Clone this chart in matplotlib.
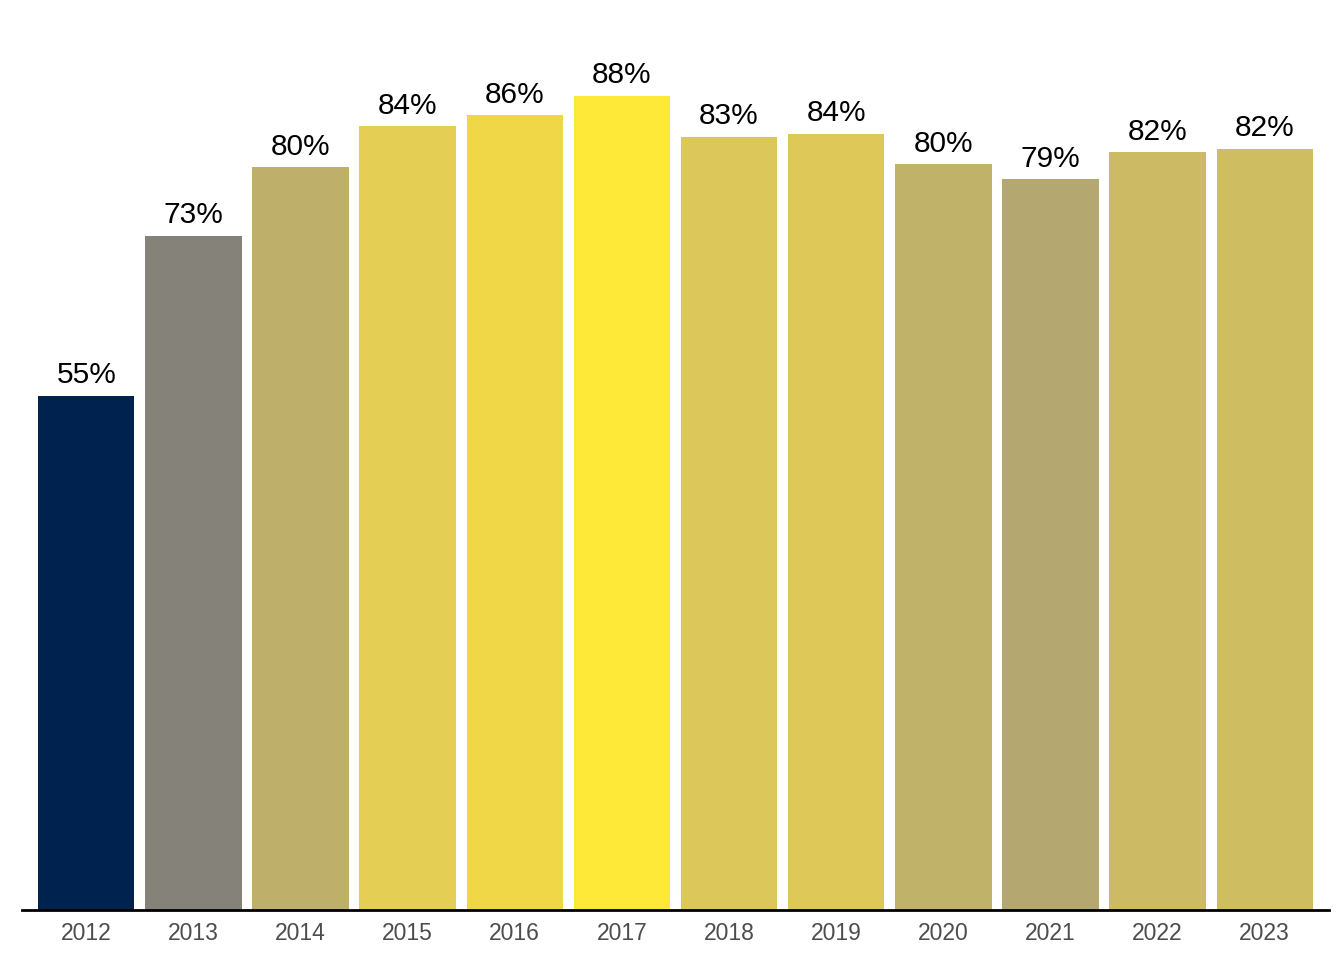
import numpy as np
import matplotlib
matplotlib.use("Agg")
import matplotlib.pyplot as plt
from matplotlib import cm, colors

# Values (percent)
years = ["2012", "2013", "2014", "2015", "2016", "2017",
         "2018", "2019", "2020", "2021", "2022", "2023"]
values = [55.4, 72.6, 80.0, 84.4, 85.6, 87.7, 83.3, 83.6, 80.3, 78.7, 81.6, 82.0]
labels = ["55%", "73%", "80%", "84%", "86%", "88%",
          "83%", "84%", "80%", "79%", "82%", "82%"]

plt.rcParams['font.family'] = ['Liberation Sans', 'DejaVu Sans']

fig = plt.figure(figsize=(13.44, 9.6), dpi=100)
ax = fig.add_axes([22 / 1344, 50 / 960, 1307 / 1344, 910 / 960])

# colour each bar by its value on the cividis scale
norm = colors.Normalize(vmin=min(values), vmax=max(values))
bar_colors = [cm.cividis(norm(v)) for v in values]

x = np.arange(1, len(years) + 1)
bars = ax.bar(x, values, width=0.9, color=bar_colors)

for rect, lab in zip(bars, labels):
    ax.annotate(lab, (rect.get_x() + rect.get_width() / 2, rect.get_height()),
                xytext=(0, 9), textcoords="offset points",
                ha="center", va="baseline", fontsize=21.5, color="black")

ax.set_xlim(0.4, 12.6)
ax.set_ylim(0, 98.0)
ax.set_xticks(x)
ax.set_xticklabels(years)
ax.set_yticks([])
ax.tick_params(axis="x", length=0, pad=9, labelsize=16.5, labelcolor="#4D4D4D")

for side in ["top", "right", "left"]:
    ax.spines[side].set_visible(False)
ax.spines["bottom"].set_linewidth(2)
ax.spines["bottom"].set_color("black")

fig.savefig("out.png", dpi=100)
